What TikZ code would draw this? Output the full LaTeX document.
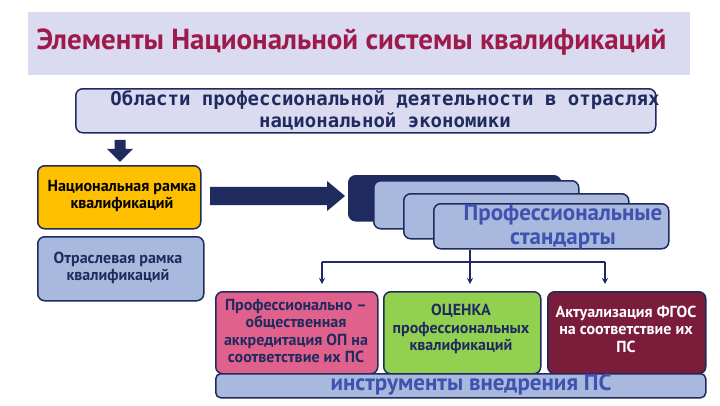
\documentclass[tikz,border=0pt]{standalone}
\usepackage{fontspec}
\setmainfont{PT Sans}
\newfontfamily\monof{DejaVu Sans Mono}
\usetikzlibrary{shapes.arrows,arrows.meta}
\definecolor{navy}{HTML}{1F2A5E}
\definecolor{lav}{HTML}{DADAF0}
\definecolor{lblue}{HTML}{A9B9DE}
\definecolor{ttl}{HTML}{9E1A4A}
\definecolor{txtb}{HTML}{3F52B0}
\definecolor{pinkb}{HTML}{E0628C}
\definecolor{greenb}{HTML}{92D050}
\definecolor{maroon}{HTML}{7A1C3A}
\definecolor{goldb}{HTML}{FFC000}
\begin{document}
\begin{tikzpicture}[x=1pt,y=-1pt,
 box/.style={draw=navy,line width=1.5pt,rounded corners=7pt},
 lbl/.style={font=\bfseries\fontsize{16}{17.5}\selectfont,align=center,text=navy},
 arr/.style={draw=navy,line width=1.5pt,-{Stealth[length=6pt,width=6pt]}}]
\useasboundingbox[fill=white] (0,0) rectangle (720,405);
\fill[lav] (28,12) rectangle (690,75);
\node[anchor=west,text=ttl,font=\bfseries\fontsize{29}{32}\selectfont] (title) at (33,42) {Элементы Национальной системы квалификаций};
\node[box,fill=lav,minimum width=580pt,minimum height=44pt,anchor=north west] (obl) at (75,88) {};
\node[text=navy,font=\monof\bfseries\fontsize{19}{22}\selectfont,align=center] (oblt) at (385,110) {Области профессиональной деятельности в отраслях\\национальной экономики};
\node[single arrow,fill=navy,rotate=-90,minimum height=22pt,minimum width=26pt,single arrow head extend=3pt,inner sep=2pt] (darr) at (120,148) {};
\node[box,fill=goldb,minimum width=163pt,minimum height=63pt,anchor=north west] (nrk) at (37,165) {};
\node[lbl,text=black] at (122,196) {Национальная рамка\\квалификаций};
\node[box,fill=lblue,minimum width=166pt,minimum height=64pt,anchor=north west] (ork) at (37,236) {};
\node[lbl] at (118,268) {Отраслевая рамка\\квалификаций};
\node[single arrow,fill=navy,minimum height=135pt,minimum width=30pt,single arrow head extend=2pt,inner sep=3pt,single arrow tip angle=80] (rarr) at (272,196) {};
\node[box,fill=navy,minimum width=212pt,minimum height=45pt,anchor=north west] (s1) at (348,175) {};
\node[box,fill=lblue,minimum width=205pt,minimum height=48pt,anchor=north west] (s2) at (373,180) {};
\node[box,fill=lblue,minimum width=225pt,minimum height=45pt,anchor=north west] (s3) at (403,193) {};
\node[box,fill=lblue,minimum width=235pt,minimum height=45pt,anchor=north west] (ps) at (433,203) {};
\node[text=txtb,font=\bfseries\fontsize{23}{24}\selectfont,align=center] at (563,227) {Профессиональные\\стандарты};
\coordinate (j) at (470,262);
\draw[navy,line width=1.5pt] (ps.south west -| j) -- (j);
\draw[navy,line width=1.5pt] (322,262) -- (605,262);
\node[box,fill=pinkb,minimum width=162pt,minimum height=82pt,anchor=north west] (p1) at (215,291) {};
\node[lbl,text=navy] at (296,331) {Профессионально –\\общественная\\аккредитация ОП на\\соответствие их ПС};
\node[box,fill=greenb,minimum width=157pt,minimum height=82pt,anchor=north west] (p2) at (383,291) {};
\node[lbl] at (461,329) {ОЦЕНКА\\профессиональных\\квалификаций};
\node[box,fill=maroon,minimum width=158pt,minimum height=82pt,anchor=north west] (p3) at (547,291) {};
\node[lbl,text=white] at (626,329) {Актуализация ФГОС\\на соответствие их\\ПС};
\draw[arr] (322,262) -- (322,284);
\draw[arr] (j) -- (470,284);
\draw[arr] (605,262) -- (605,284);
\node[box,fill=lblue,minimum width=490pt,minimum height=24pt,anchor=north west,rounded corners=5pt] (bar) at (215,373) {};
\node[text=txtb,font=\bfseries\fontsize{23}{25}\selectfont] at (471,385) {инструменты внедрения ПС};
\end{tikzpicture}
\end{document}
